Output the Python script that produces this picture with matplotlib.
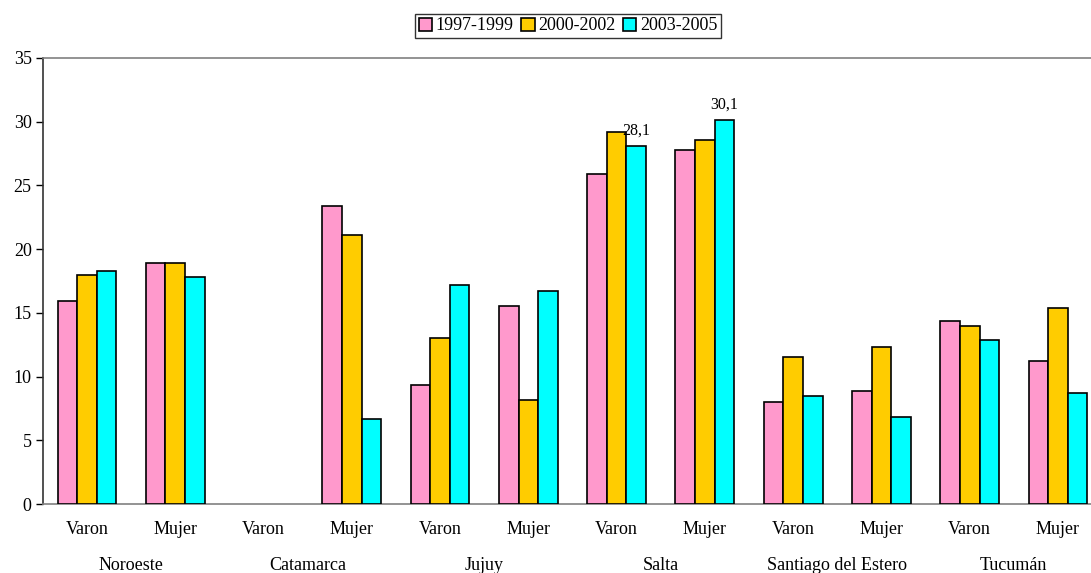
import matplotlib

matplotlib.use("Agg")
import matplotlib.pyplot as plt  # noqa: E402
import numpy as np  # noqa: E402
from matplotlib.transforms import blended_transform_factory  # noqa: E402

plt.rcParams["font.family"] = ["Liberation Serif", "DejaVu Serif"]

REGIONS = ["Noroeste", "Catamarca", "Jujuy", "Salta", "Santiago del Estero", "Tucumán"]
SEXES = ["Varon", "Mujer"]
PERIODS = ["1997-1999", "2000-2002", "2003-2005"]
COLORS = ["#FF99CC", "#FFCC00", "#00FFFF"]

# one value per region x sex (Varon, Mujer), NaN = no data
v_1997 = [15.9, 18.9, np.nan, 23.4, 9.3, 15.5, 25.9, 27.8, 8.0, 8.9, 14.4, 11.2]
v_2000 = [18.0, 18.9, np.nan, 21.1, 13.0, 8.2, 29.2, 28.6, 11.5, 12.3, 14.0, 15.4]
v_2003 = [18.3, 17.8, np.nan, 6.7, 17.2, 16.7, 28.1, 30.1, 8.5, 6.8, 12.9, 8.7]
labelled = {6: "28,1", 7: "30,1"}  # value labels on the 2003-2005 series

series = [v_1997, v_2000, v_2003]
n = len(v_1997)
x = np.arange(n)
width = 0.222

fig = plt.figure(figsize=(10.91, 5.73), dpi=100)
ax = fig.add_axes([0.0392, 0.1204, 0.971, 0.7784])

for i, (vals, label, col) in enumerate(zip(series, PERIODS, COLORS)):
    ax.bar(x + (i - 1) * width, vals, width, color=col, edgecolor="black",
           linewidth=1.2, label=label, zorder=3)

for idx, txt in labelled.items():
    ax.text(x[idx] + width, v_2003[idx] + 0.6, txt, ha="center", va="bottom", fontsize=11.5)

ax.set_xlim(-0.5, n - 0.5)
ax.set_ylim(0, 35)
ax.set_yticks(range(0, 36, 5))
ax.tick_params(axis="y", labelsize=13, length=5, width=1, direction="out", pad=3)
ax.tick_params(axis="x", length=0, labelbottom=False)

ax.spines["right"].set_visible(False)
ax.spines["left"].set_color("#333333")
ax.spines["top"].set_color("#808080")
ax.spines["bottom"].set_color("#808080")
for s in ax.spines.values():
    s.set_linewidth(1.2)

# two-level category axis
tr = blended_transform_factory(ax.transData, fig.transFigure)
for i in range(n):
    ax.text(x[i], 1 - 530 / 573, SEXES[i % 2], transform=tr, ha="center", va="center",
            fontsize=13)
for j, reg in enumerate(REGIONS):
    ax.text(2 * j + 0.5, 1 - 565 / 573, reg, transform=tr, ha="center", va="center",
            fontsize=13)

leg = fig.legend(loc="center", bbox_to_anchor=(568 / 1091, 1 - 26 / 573), ncol=3,
                 fontsize=13, frameon=True, fancybox=False, edgecolor="black",
                 handlelength=0.75, handleheight=0.75, handletextpad=0.2,
                 columnspacing=0.4, borderpad=0.2, borderaxespad=0)
leg.get_frame().set_linewidth(1.0)

fig.savefig("out.png", dpi=100)
